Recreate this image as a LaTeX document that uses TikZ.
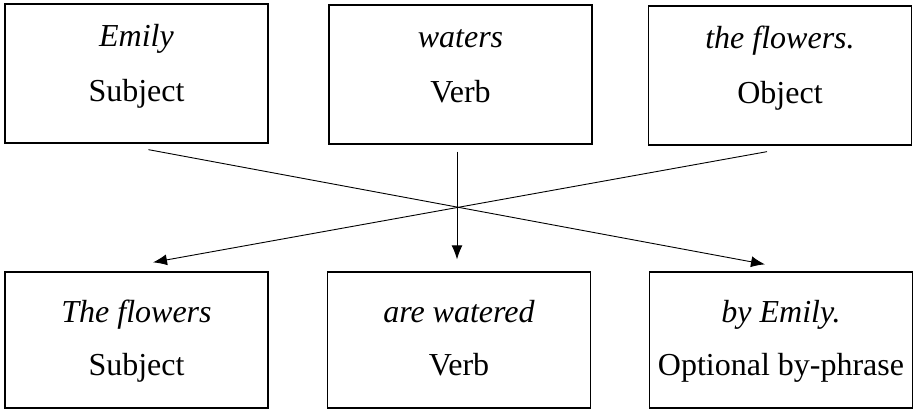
\documentclass[tikz,border=0pt]{standalone}
\usepackage{fontspec}
\setmainfont{Liberation Serif}
\usetikzlibrary{positioning,arrows.meta}
\tikzset{
wordbox/.style={
  draw,
  line width=1.3pt,
  minimum width=263pt,
  minimum height=139pt,
  inner sep=0pt,
  align=center,
  font=\fontsize{32}{55}\selectfont,
  text height=63pt,
  text depth=7pt
  },
lowbox/.style={
  wordbox,
  minimum height=136pt,
  font=\fontsize{32}{53}\selectfont,
  text height=77pt
  }
}

\begin{document}
\begin{tikzpicture}[x=1pt, y=1pt, >={Latex[length=14pt,width=11pt]}]
\useasboundingbox (0,0) rectangle (915,-410);
% active sentence
\node[wordbox] (act1) at (136.5,-73.5) {\textit{Emily}\\Subject};
\node[wordbox] (act2) at (460.5,-74.5) {\textit{waters}\\Verb};
\node[wordbox] (act3) at (780,-75.5) {\textit{the flowers.}\\Object};
% passive sentence
\node[lowbox] (pas1) at (136.5,-340) {\textit{The flowers}\\Subject};
\node[lowbox] (pas2) at (459,-340) {\textit{are watered}\\Verb};
\node[lowbox] (pas3) at (781,-340) {\textit{by Emily.}\\Optional by-phrase};

\begin{scope}[line width=0.9pt]
\draw[->]
  ([xshift=12pt,yshift=-6pt]act1.south) -- ([xshift=-16pt,yshift=7pt]pas3.north);
\draw[->]
  ([xshift=-3.5pt,yshift=-7pt]act2.south) -- ([xshift=-2pt,yshift=12pt]pas2.north);
\draw[->]
  ([xshift=-13pt,yshift=-6pt]act3.south) -- ([xshift=16.5pt,yshift=9pt]pas1.north);
\end{scope}
\end{tikzpicture}
\end{document}
